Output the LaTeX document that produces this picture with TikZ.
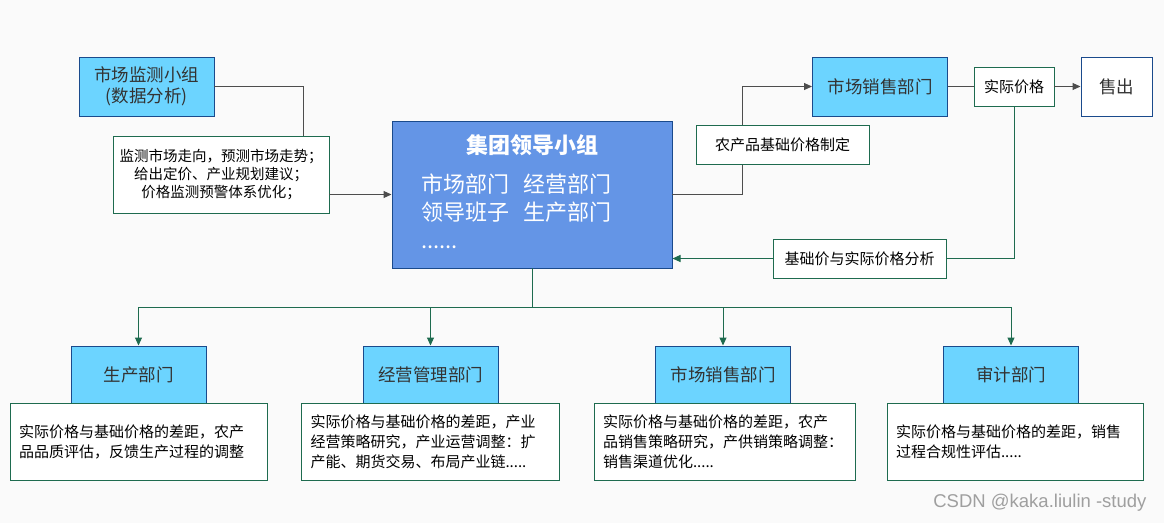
\documentclass[tikz,border=0pt]{standalone}
\usepackage{fontspec}
\setmainfont{Noto Sans CJK SC}
\newfontfamily\wmfont{Liberation Sans}
\usetikzlibrary{positioning,arrows.meta}
\definecolor{bgcol}{HTML}{FAFAFA}
\definecolor{deptfill}{HTML}{6CD4FF}
\definecolor{deptline}{HTML}{1A4A8C}
\definecolor{leadfill}{HTML}{6495E6}
\definecolor{notegreen}{HTML}{1E6B4F}
\definecolor{linkgrey}{HTML}{4D4D4D}
\definecolor{txtdark}{HTML}{333333}

\begin{document}
\begin{tikzpicture}[x=1pt, y=-1pt,
  dept/.style={draw=deptline, fill=deptfill, line width=0.9pt, inner sep=0pt,
               outer sep=0pt, minimum width=135pt, minimum height=59pt,
               text=txtdark, align=center, font=\fontsize{17.5}{21}\selectfont},
  note/.style={draw=notegreen, fill=white, line width=0.9pt, inner sep=0pt,
               outer sep=0pt, minimum height=39pt, text=black,
               font=\fontsize{15}{18}\selectfont},
  desc/.style={draw=notegreen, fill=white, line width=0.9pt, inner xsep=9pt,
               inner ysep=0pt, outer sep=0pt, minimum height=77pt, align=left,
               font=\fontsize{15}{20}\selectfont},
  conn/.style={draw=linkgrey, line width=1pt},
  carr/.style={conn, -{Triangle[length=8pt,width=7pt]}, shorten >=0.5pt},
  fb/.style={draw=notegreen, line width=1pt},
  farr/.style={fb, -{Triangle[length=8pt,width=7pt]}, shorten >=0.5pt},
]
  % background
  \fill[bgcol] (0,0) rectangle (1164,523);
  \useasboundingbox (0,0) rectangle (1164,523);

  % --- monitoring group ---
  \node[dept] (mon) at (146.5,86.5) {市场监测小组\\(数据分析)};
  \node[note, minimum width=216pt, minimum height=77pt, align=center,
        font=\fontsize{14.5}{18}\selectfont] (monnote) at (221,174.5)
       {监测市场走向，预测市场走势；\\给出定价、产业规划建议；\\价格监测预警体系优化；};

  % --- leading group ---
  \node[draw=deptline, fill=leadfill, line width=0.9pt, minimum width=280pt,
        minimum height=147pt, outer sep=0pt] (lead) at (532,194.5) {};
  \node[text=white, font=\bfseries\fontsize{22}{26}\selectfont]
       (leadttl) at ([yshift=-24pt]lead.north) {集团领导小组};
  \node[text=white, anchor=north west, align=left, inner sep=0pt,
        font=\fontsize{22}{28}\selectfont]
       (leadtxt) at ([xshift=29pt,yshift=-53pt]lead.north west)
       {市场部门\hspace{14pt}经营部门\\领导班子\hspace{14pt}生产部门\\......};

  \draw[conn] (mon.east) -| ([xshift=-26pt]monnote.north east);
  \draw[carr] (monnote.east |- lead.west) -- (lead.west);

  % --- sales path ---
  \node[dept] (mkt) at (880,86.5) {市场销售部门};
  \node[note, minimum width=80pt] (real) at (1014,86.5) {实际价格};
  \node[dept, fill=white, minimum width=71pt] (sold) at (1116.5,86.5) {售出};
  \draw[carr] (lead.east) -- ++(70,0) |- (mkt.west);
  \node[note, minimum width=173pt] (base) at (782.5,144.5) {农产品基础价格制定};
  \draw[conn] (mkt.east) -- (real.west);
  \draw[carr] (real.east) -- (sold.west);

  % --- feedback ---
  \node[note, minimum width=173pt] (anal) at (859.5,258.5) {基础价与实际价格分析};
  \draw[fb] (real.south) |- (anal.east);
  \draw[farr] (anal.west) -- (anal.west -| lead.east);

  % --- departments ---
  \node[dept, minimum height=57pt] (pd) at (138.5,374.5) {生产部门};
  \node[dept, minimum height=57pt] (jy) at (430.5,374.5) {经营管理部门};
  \node[dept, minimum height=57pt] (sc) at (723,374.5) {市场销售部门};
  \node[dept, minimum height=57pt] (sj) at (1011,374.5) {审计部门};

  \draw[fb] (lead.south) -- ++(0,39) coordinate (hub);
  \foreach \d in {pd,jy,sc,sj}
    \draw[farr] (hub) -| (\d.north);

  \node[desc, text width=239pt, below=0pt of pd] (pddesc)
       {实际价格与基础价格的差距，农产\\品品质评估，反馈生产过程的调整};
  \node[desc, text width=240pt, below=0pt of jy] (jydesc)
       {实际价格与基础价格的差距，产业\\经营策略研究，产业运营调整：扩\\产能、期货交易、布局产业链.....};
  \node[desc, text width=243pt, below=0pt of sc, xshift=1.5pt] (scdesc)
       {实际价格与基础价格的差距，农产\\品销售策略研究，产供销策略调整：\\销售渠道优化.....};
  \node[desc, text width=238pt, below=0pt of sj, xshift=4pt] (sjdesc)
       {实际价格与基础价格的差距，销售\\过程合规性评估.....};

  % watermark
  \node[anchor=east, text=gray!75, font=\wmfont\fontsize{18.5}{18.5}\selectfont]
       (wm) at (1150,503) {CSDN @kaka.liulin -study};
\end{tikzpicture}
\end{document}
